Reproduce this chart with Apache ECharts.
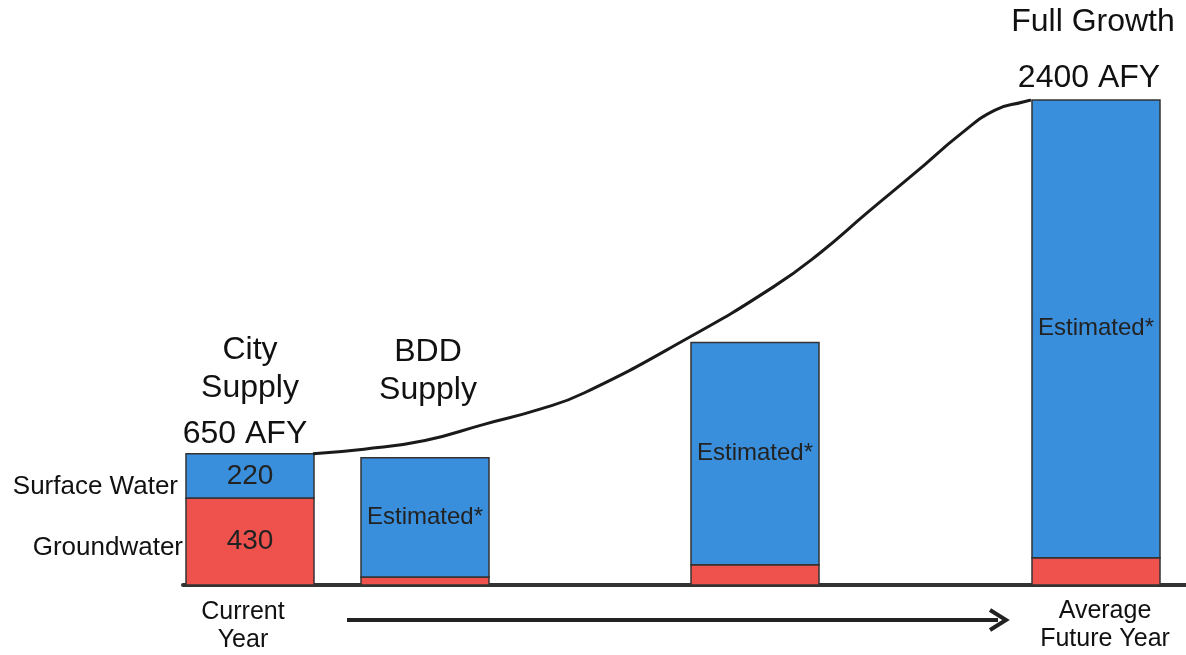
<!DOCTYPE html>
<html>
<head>
<meta charset="utf-8">
<script src="https://cdn.jsdelivr.net/npm/echarts@6/dist/echarts.min.js"></script>
<style>
  html, body { margin: 0; padding: 0; background: #fff; }
  #chart { width: 1186px; height: 655px; }
</style>
</head>
<body>
<div id="chart"></div>
<script>
  // bar positions along the timeline (10 px per unit)
  let timeline = [25, 42.5, 75.5, 109.6]
  let groundwater = [430, 40, 100, 135]
  let surfaceWater = [220, 590, 1100, 2265]
  let groundLabels = ['430', '', '', '']
  let surfaceLabels = ['220', 'Estimated*', 'Estimated*', 'Estimated*']

  // demand curve
  let curveX = [31.3, 36.4, 42.5, 48.4, 54, 58.4, 68.8, 77.3, 82, 86.7, 91.5, 96.2, 99.5, 102.3, 103.1]
  let curveY = [650, 672, 715, 795, 870, 950, 1222, 1474, 1643, 1841, 2039, 2237, 2350, 2390, 2400]

  let font = '"Liberation Sans", Arial, sans-serif'
  let blue = '#3a8fdc'
  let red = '#ef524d'
  let barW = 128

  function txt(text, x, y, size, align) {
    return {
      type: 'text', x: x, y: y, z: 100,
      style: {
        text: text, fill: '#111', font: 'normal ' + size + 'px ' + font,
        align: align || 'center', verticalAlign: 'middle'
      }
    }
  }

  function segment(x, y0, y1, color, label, size) {
    return {
      type: 'rect',
      shape: { x: x - barW / 2, y: y1, width: barW, height: y0 - y1 },
      style: { fill: color, stroke: '#333', lineWidth: 1.5 },
      textContent: {
        style: { text: label, fill: '#222', font: 'normal ' + size + 'px ' + font }
      },
      textConfig: { position: 'inside' }
    }
  }

  let myChart = echarts.init(document.getElementById('chart'))
  let option = {
    backgroundColor: '#fff',
    animation: false,
    grid: { left: 183, right: 0, top: 100, bottom: 70 },
    xAxis: {
      type: 'value', min: 18.3, max: 118.6,
      axisLine: { show: true, onZero: true, lineStyle: { color: '#333', width: 4 } },
      axisTick: { show: false }, axisLabel: { show: false }, splitLine: { show: false }
    },
    yAxis: {
      type: 'value', min: 0, max: 2400,
      axisLine: { show: false }, axisTick: { show: false },
      axisLabel: { show: false }, splitLine: { show: false }
    },
    series: [
      {
        name: 'Supply', type: 'custom', z: 3,
        data: timeline.map(function (x, i) { return [x, groundwater[i], surfaceWater[i]] }),
        encode: { x: 0, y: [1, 2] },
        renderItem: function (params, api) {
          let i = params.dataIndex
          let x = api.value(0), g = api.value(1), s = api.value(2)
          let p0 = api.coord([x, 0])
          let p1 = api.coord([x, g])
          let p2 = api.coord([x, g + s])
          let size = i === 0 ? 28 : 24
          return {
            type: 'group',
            children: [
              segment(p0[0], p0[1], p1[1], red, groundLabels[i], size),
              segment(p0[0], p1[1], p2[1], blue, surfaceLabels[i], size)
            ]
          }
        }
      },
      {
        name: 'Demand', type: 'line', smooth: 0.5, showSymbol: false, z: 5,
        lineStyle: { color: '#1a1a1a', width: 3 },
        data: curveX.map(function (x, i) { return [x, curveY[i]] })
      }
    ],
    graphic: [
      txt('Full Growth', 1093, 22, 32),
      txt('2400 AFY', 1089, 78, 32),
      txt('City', 250, 350, 32),
      txt('Supply', 250, 388, 32),
      txt('650 AFY', 245, 434, 32),
      txt('BDD', 428, 352, 32),
      txt('Supply', 428, 390, 32),
      txt('Surface Water', 178, 487, 26, 'right'),
      txt('Groundwater', 183, 548, 26, 'right'),
      txt('Current', 243, 612, 25),
      txt('Year', 243, 640, 25),
      txt('Average', 1105, 611, 25),
      txt('Future Year', 1105, 639, 25),
      {
        type: 'line', z: 50,
        shape: { x1: 347, y1: 620, x2: 998, y2: 620 },
        style: { stroke: '#222', lineWidth: 4 }
      },
      {
        type: 'polyline', z: 50,
        shape: { points: [[990, 610], [1006, 620], [990, 630]] },
        style: { stroke: '#222', lineWidth: 4, fill: null }
      }
    ]
  }
  myChart.setOption(option)
</script>
</body>
</html>
